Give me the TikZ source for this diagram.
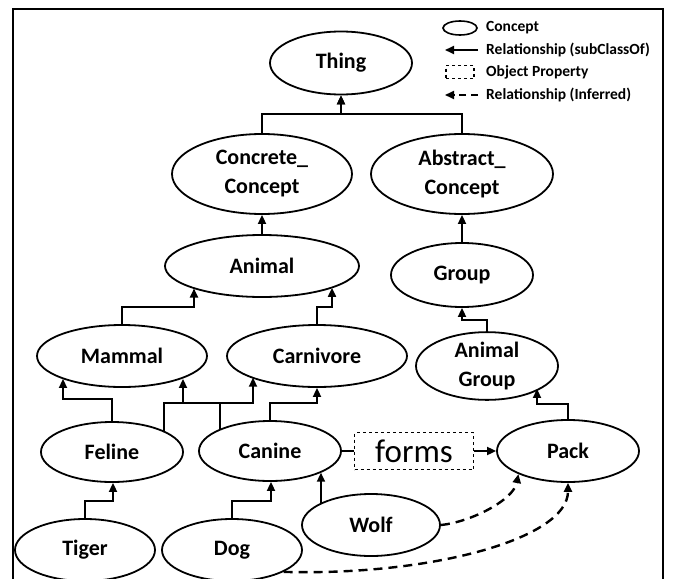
\documentclass[tikz,border=0pt]{standalone}
\usepackage{fontspec}
\setmainfont{Carlito}
\usetikzlibrary{shapes.geometric,arrows.meta}
\begin{document}
\begin{tikzpicture}[x=1pt,y=-1pt,
  concept/.style={draw,ellipse,line width=1.8pt,inner sep=0pt,font=\fontsize{22}{29}\selectfont\bfseries,align=center},
  arr/.style={line width=1.8pt,-{Triangle[length=9pt,width=8pt]}},
  link/.style={line width=1.8pt},
  inf/.style={line width=2.4pt,dash pattern=on 9pt off 6pt,-{Triangle[length=9pt,width=8pt]}},
  legtext/.style={anchor=west,font=\fontsize{15.5}{18}\selectfont\bfseries,inner sep=0pt},
]
\useasboundingbox (0,0) rectangle (674,578);
\clip (0,0) rectangle (674,578);
\fill[white] (0,0) rectangle (674,578);
\draw[line width=2pt] (13,9) rectangle (663,600);

% legend
\node[draw,ellipse,line width=1.6pt,minimum width=34pt,minimum height=14pt,inner sep=0pt] (legc) at (460,28) {};
\node[legtext] (legct) at (486,28) {Concept};
\coordinate (lga) at (478,50);
\coordinate (lgb) at (445,50);
\draw[arr] (lga) -- (lgb);
\node[legtext] (legrt) at (486,50) {Relationship (subClassOf)};
\node[draw,dashed,line width=1.4pt,minimum width=28pt,minimum height=13pt,inner sep=0pt] (legp) at (460,72) {};
\node[legtext] (legpt) at (486,72) {Object Property};
\coordinate (lgc) at (478,95);
\coordinate (lgd) at (445,95);
\draw[inf,line width=1.8pt,dash pattern=on 7pt off 5pt] (lgc) -- (lgd);
\node[legtext] (legit) at (486,95) {Relationship (Inferred)};

% concepts
\node[concept,minimum width=142pt,minimum height=63pt] (thing) at (341,63) {Thing};
\node[concept,minimum width=180pt,minimum height=80pt] (concrete) at (262,174) {Concrete\_\\Concept};
\node[concept,minimum width=182pt,minimum height=80pt] (abstract) at (462,174) {Abstract\_\\Concept};
\node[concept,minimum width=194pt,minimum height=62pt] (animal) at (262,266) {Animal};
\node[concept,minimum width=142pt,minimum height=64pt] (group) at (462,275) {Group};
\node[concept,minimum width=170pt,minimum height=62pt] (mammal) at (122,356) {Mammal};
\node[concept,minimum width=180pt,minimum height=62pt] (carnivore) at (317,356) {Carnivore};
\node[concept,minimum width=142pt,minimum height=60pt] (agroup) at (487,366) {Animal\\Group};
\node[concept,minimum width=142pt,minimum height=60pt] (feline) at (112,452) {Feline};
\node[concept,minimum width=142pt,minimum height=60pt] (canine) at (270,451) {Canine};
\node[concept,minimum width=142pt,minimum height=62pt] (pack) at (568,451) {Pack};
\node[draw,dashed,line width=1.6pt,minimum width=119pt,minimum height=37pt,inner sep=0pt,
      font=\fontsize{33}{33}\selectfont] (forms) at (414,451) {forms};
\node[concept,minimum width=138pt,minimum height=62pt] (wolf) at (371,525) {Wolf};
\node[concept,minimum width=140pt,minimum height=62pt] (tiger) at (85,550) {Tiger};
\node[concept,minimum width=140pt,minimum height=62pt] (dog) at (232,550) {Dog};

% junctions
\coordinate (jt) at (341,114);
\coordinate (jm) at (194,307);
\coordinate (jc) at (332,307);
\coordinate (jg) at (462,320);
\coordinate (jag) at (537,404);
\coordinate (jfm) at (63,399);
\coordinate (jfc) at (253,403);
\coordinate (jcm) at (183,403);
\coordinate (jcc) at (317,403);
\coordinate (jtf) at (113,501);
\coordinate (jdc) at (271,501);

% subClassOf
\draw[arr] (concrete.north) |- (jt) -- (thing.south);
\draw[arr] (abstract.north) |- (jt) -- (thing.south);
\draw[arr] (animal.north) -- (concrete.south);
\draw[arr] (group.north) -- (abstract.south);
\draw[arr] (mammal.north) |- (jm) -- (jm |- animal.198);
\draw[arr] (carnivore.north) |- (jc) -- (jc |- animal.343);
\draw[arr] (agroup.north) |- (jg) -- (group.south);
\draw[arr] (pack.north) |- (jag) -- (jag |- agroup.337);
\draw[arr] (feline.north) |- (jfm) -- (jfm |- mammal.201.4);
\draw[arr] (feline.22.3) |- (jfc) -- (jfc |- carnivore.198.8);
\draw[arr] (canine.156.1) |- (jcm) -- (jcm |- mammal.339.9);
\draw[arr] (canine.north) |- (jcc) -- (carnivore.south);
\draw[arr] (tiger.north) |- (jtf) -- (jtf |- feline.south);
\draw[arr] (dog.north) |- (jdc) -- (jdc |- canine.south);
\draw[arr] (wolf.156.8) -- (wolf.156.8 |- canine.337.7);

% object property
\draw[link] (canine.east) -- (forms.west);
\draw[arr] (forms.east) -- (pack.west);

% inferred
\draw[inf] (wolf.east) .. controls +(30,-3) and +(-5,26) .. (pack.205.4);
\draw[inf] (dog.337.4) .. controls +(147,4) and +(0,56) .. (pack.south);
\end{tikzpicture}
\end{document}
